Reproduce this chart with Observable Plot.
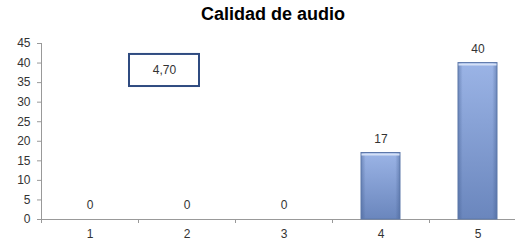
<!DOCTYPE html>
<html>
<head>
<meta charset="utf-8">
<script src="https://cdn.jsdelivr.net/npm/d3@7"></script>
<script src="https://cdn.jsdelivr.net/npm/@observablehq/plot@0.6"></script>
<style>
  html, body { margin: 0; padding: 0; background: #fff; }
  #wrap { position: relative; width: 515px; height: 241px; overflow: hidden; }
  #title { position: absolute; left: 0; width: 546px; top: 4px; text-align: center; line-height: 21px;
           font: bold 18px "Liberation Sans", Arial, sans-serif; color: #000; }
  svg { font-family: "Liberation Sans", Arial, sans-serif; }
</style>
</head>
<body>
<div id="wrap">
  <div id="title"></div>
  <div id="chart"></div>
</div>
<script>
const titleText = "Calidad de audio";
const categories = ["1", "2", "3", "4", "5"];
const values = [0, 0, 0, 17, 40];
const yTicks = [0, 5, 10, 15, 20, 25, 30, 35, 40, 45];
const boxLabel = "4,70";
const boxCategory = "2";
const boxRange = [34, 42.2];

document.getElementById("title").textContent = titleText;

const data = categories.map((c, i) => ({cat: c, value: values[i]}));

const defs = () => {
  const d = d3.create("svg:defs");
  const g = d.append("linearGradient").attr("id", "barGrad").attr("x1", 0).attr("x2", 0).attr("y1", 0).attr("y2", 1);
  g.append("stop").attr("offset", "0%").attr("stop-color", "#9bb4e6");
  g.append("stop").attr("offset", "100%").attr("stop-color", "#6a86bd");
  const h = d.append("linearGradient").attr("id", "edgeGrad").attr("x1", 0).attr("x2", 1).attr("y1", 0).attr("y2", 0);
  h.append("stop").attr("offset", "0%").attr("stop-color", "#3f5a8c").attr("stop-opacity", 0.45);
  h.append("stop").attr("offset", "12%").attr("stop-color", "#3f5a8c").attr("stop-opacity", 0);
  h.append("stop").attr("offset", "88%").attr("stop-color", "#3f5a8c").attr("stop-opacity", 0);
  h.append("stop").attr("offset", "100%").attr("stop-color", "#3f5a8c").attr("stop-opacity", 0.45);
  return d.node();
};

const chart = Plot.plot({
  width: 515,
  height: 241,
  marginLeft: 41,
  marginRight: 0,
  marginTop: 43,
  marginBottom: 22,
  style: {fontFamily: "'Liberation Sans', Arial, sans-serif", fontSize: "12px", color: "#333", background: "#fff"},
  x: {domain: categories, range: [41, 526], padding: 0, label: null},
  y: {domain: [0, 45], label: null},
  marks: [
    defs,
    Plot.axisY({ticks: yTicks, tickSize: 4, tickPadding: 7, stroke: "#999", fill: "#333", fontSize: 12, label: null}),
    Plot.ruleX([categories[0]], {x: d => d, dx: -48.5, stroke: "#999"}),
    Plot.ruleY([0], {stroke: "#999", insetLeft: -4}),
    Plot.axisX({tickSize: 0, tickPadding: 10, fill: "#333", fontSize: 12, label: null}),
    Plot.ruleX(categories, {x: d => d, dx: -48.5, y1: 0, y2: 0, insetBottom: -4, stroke: "#999"}),
    Plot.barY(data, {x: "cat", y: "value", fill: "url(#barGrad)", insetLeft: 29, insetRight: 29}),
    Plot.barY(data, {x: "cat", y: "value", fill: "url(#edgeGrad)", stroke: "#5d78aa", strokeWidth: 1, insetLeft: 29, insetRight: 29}),
    Plot.ruleY(data.filter(d => d.value > 0), {x1: d => d.cat, x2: d => d.cat, y: "value", dy: 1.5, insetLeft: 29.5, insetRight: 29.5, stroke: "#d4e0f6", strokeWidth: 2}),
    Plot.text(data, {x: "cat", y: "value", text: d => String(d.value), dy: -14, fontSize: 12, fill: "#333"}),
    Plot.barY([{cat: boxCategory}], {x: "cat", y1: boxRange[0], y2: boxRange[1], dx: -22.5, insetLeft: 13.5, insetRight: 13.5, fill: "#fff", stroke: "#2f4b80", strokeWidth: 2}),
    Plot.text([{cat: boxCategory}], {x: "cat", y: (boxRange[0] + boxRange[1]) / 2, text: () => boxLabel, dx: -22.5, fontSize: 12, fill: "#333"})
  ]
});
document.getElementById("chart").appendChild(chart);
</script>
</body>
</html>
